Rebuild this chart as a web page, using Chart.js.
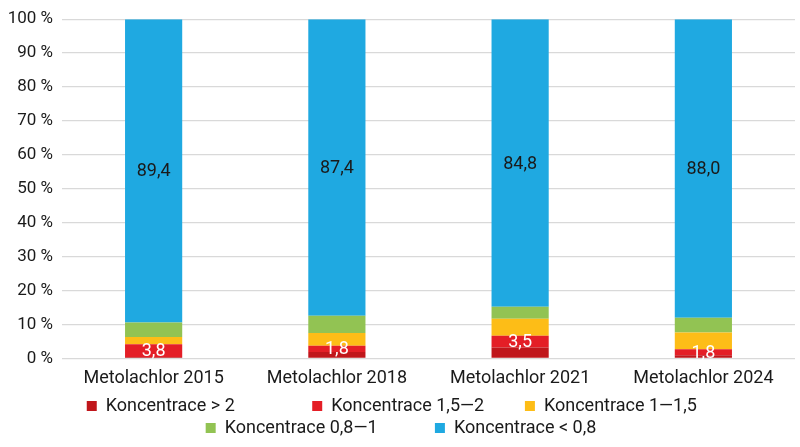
<!DOCTYPE html>
<html>
<head>
<meta charset="utf-8">
<script src="https://cdn.jsdelivr.net/npm/chart.js@4"></script>
<style>
  html, body { margin: 0; padding: 0; background: #fff; }
  #wrap { width: 800px; height: 447px; }
</style>
</head>
<body>
<div id="wrap"><canvas id="chart"></canvas></div>
<script>
const categories = ['Metolachlor 2015', 'Metolachlor 2018', 'Metolachlor 2021', 'Metolachlor 2024']
const seriesNames = ['Koncentrace > 2', 'Koncentrace 1,5—2', 'Koncentrace 1—1,5', 'Koncentrace 0,8—1', 'Koncentrace < 0,8']
const over2    = [0.4, 1.9, 3.2, 0.9]
const c15to2   = [3.8, 1.8, 3.5, 1.8]
const c1to15   = [2.1, 3.8, 5.0, 4.9]
const c08to1   = [4.3, 5.1, 3.5, 4.4]
const under08  = [89.4, 87.4, 84.8, 88.0]
const yTicks   = [0, 10, 20, 30, 40, 50, 60, 70, 80, 90, 100]

const colors = ['#C0161B', '#E41E26', '#FDBD17', '#92C353', '#1FA9E1']
// trailing spaces widen the legend items so the rows spread like the original
const legendPad = ['\u2003\u2003\u2003\u2003', '\u2003\u2003', '\u2003', '\u2003\u2003\u2002\u2009\u2009', '']

const fontFamily = 'Roboto, "DejaVu Sans", sans-serif'
const fmtNum = v => v.toFixed(1).replace('.', ',')

// draws the value inside the segments that carry a label
const segmentLabels = {
  id: 'segmentLabels',
  afterDatasetsDraw(chart) {
    const ctx = chart.ctx
    ctx.save()
    ctx.textAlign = 'center'
    ctx.textBaseline = 'middle'
    ctx.font = '18px ' + fontFamily
    chart.data.datasets.forEach((ds, i) => {
      if (!ds.labelColor) return
      chart.getDatasetMeta(i).data.forEach((bar, j) => {
        const { x, y } = bar.getCenterPoint()
        ctx.fillStyle = ds.labelColor
        ctx.fillText(fmtNum(ds.data[j]), x, y + 1)
      })
    })
    ctx.restore()
  }
}

const seriesData = [over2, c15to2, c1to15, c08to1, under08]
const labelColors = [null, '#ffffff', null, null, '#1a1a1a']

new Chart(document.getElementById('chart'), {
  type: 'bar',
  data: {
    labels: categories,
    datasets: seriesData.map((d, i) => ({
      label: seriesNames[i],
      data: d,
      backgroundColor: colors[i],
      borderWidth: 0,
      categoryPercentage: 1,
      barPercentage: 0.312,
      labelColor: labelColors[i]
    }))
  },
  options: {
    responsive: true,
    maintainAspectRatio: false,
    animation: false,
    layout: { padding: { top: 11, right: 5, left: 7, bottom: 0 } },
    plugins: {
      tooltip: { enabled: false },
      legend: {
        position: 'bottom',
        labels: {
          color: '#1a1a1a',
          boxWidth: 10,
          boxHeight: 10,
          padding: 4,
          font: { family: fontFamily, size: 18 },
          generateLabels: (chart) => chart.data.datasets.map((ds, i) => ({
            text: ds.label + legendPad[i],
            fillStyle: ds.backgroundColor,
            strokeStyle: ds.backgroundColor,
            lineWidth: 0,
            fontColor: '#1a1a1a',
            datasetIndex: i
          }))
        }
      }
    },
    scales: {
      x: {
        stacked: true,
        grid: { display: false },
        border: { display: false },
        afterFit: (axis) => { axis.height += 3 },
        ticks: { color: '#1a1a1a', padding: 1, font: { family: fontFamily, size: 18 } }
      },
      y: {
        stacked: true,
        min: 0,
        max: 100,
        afterBuildTicks: (axis) => { axis.ticks = yTicks.map(v => ({ value: v })) },
        afterFit: (axis) => { axis.width = 55 },
        grid: { color: '#d9d9d9', lineWidth: 1.3, drawTicks: false },
        border: { display: false },
        ticks: {
          color: '#1a1a1a',
          padding: 9,
          font: { family: fontFamily, size: 17 },
          callback: v => v + ' %'
        }
      }
    }
  },
  plugins: [segmentLabels]
})
</script>
</body>
</html>
